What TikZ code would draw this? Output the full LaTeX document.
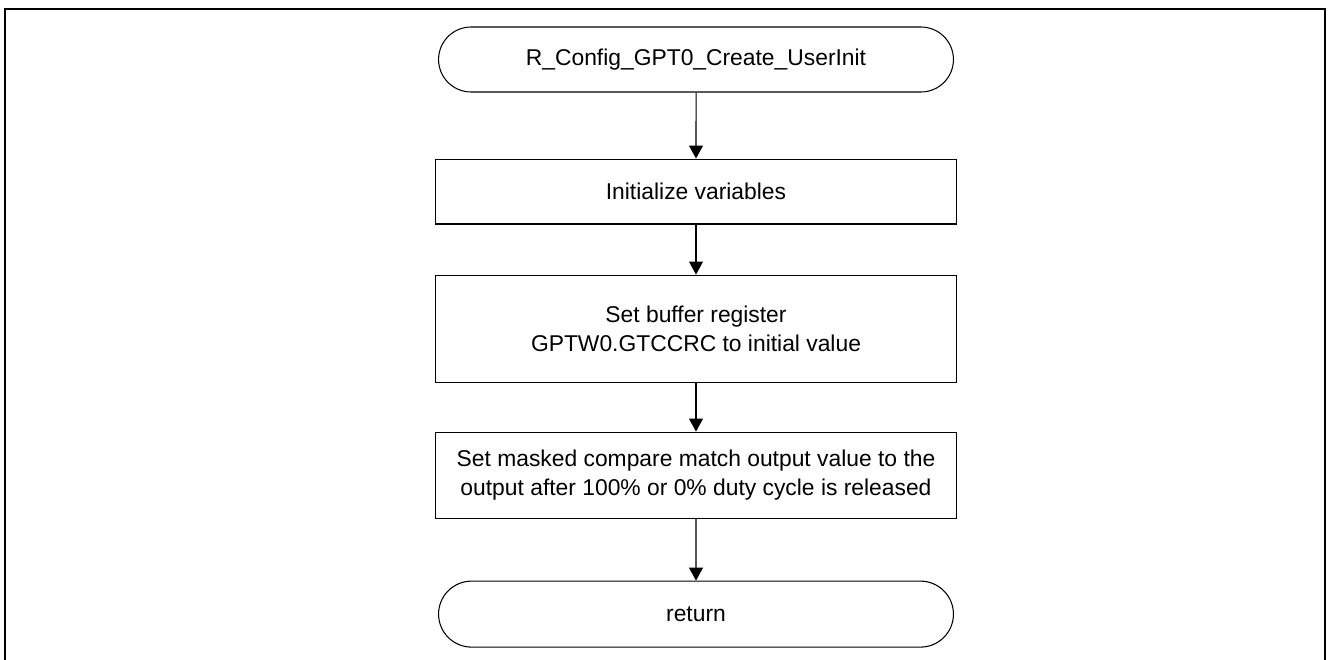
\documentclass[tikz,border=0pt]{standalone}
\usepackage{fontspec}
\setmainfont{Liberation Sans}
\usetikzlibrary{shapes.misc,arrows.meta,positioning}

\begin{document}
\begin{tikzpicture}[
    x=0.02cm, y=0.02cm,
    every node/.style={font=\fontsize{13pt}{16.5pt}\selectfont, align=center},
    term/.style={rounded rectangle, draw=black, line width=0.6pt, minimum width=10.44cm, minimum height=1.3cm, inner sep=2pt},
    proc/.style={rectangle, draw=black, line width=0.6pt, minimum width=10.44cm, inner sep=2pt},
    arrow/.style={-{Triangle[length=0.26cm, width=0.28cm]}, draw=black, line width=0.6pt},
    frame/.style={draw=black, line width=1.5pt}
]
    \useasboundingbox (0,0) rectangle (1328,-659);
    \draw [frame] (5,-670) |- (1325,-9) -- (1325,-670);

    \node (start) [term] at (696,-59.5) {R\_Config\_GPT0\_Create\_UserInit};
    \node (init) [proc, minimum height=1.3cm, below=1.32cm of start] {Initialize variables};
    \node (buf) [proc, minimum height=2.14cm, below=1cm of init] {Set buffer register\\GPTW0.GTCCRC to initial value};
    \node (mask) [proc, minimum height=1.72cm, below=0.98cm of buf] {Set masked compare match output value to the\\output after 100\% or 0\% duty cycle is released};
    \node (ret) [term, minimum height=1.32cm, below=1.24cm of mask] {return};

    \draw [arrow] (start) -- (init);
    \draw [arrow] (init) -- (buf);
    \draw [arrow] (buf) -- (mask);
    \draw [arrow] (mask) -- (ret);
\end{tikzpicture}
\end{document}
